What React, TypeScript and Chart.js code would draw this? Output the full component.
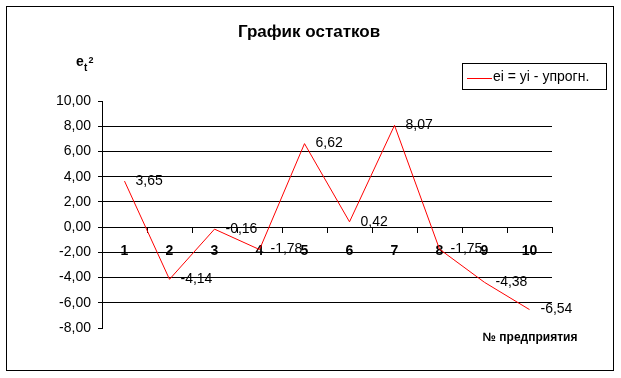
import React, { useEffect, useRef } from "react";
import { Chart, registerables } from "chart.js";

Chart.register(...registerables);

// Residuals per enterprise
const enterprises: string[] = ["1", "2", "3", "4", "5", "6", "7", "8", "9", "10"];
const residuals: number[] = [3.65, -4.14, -0.16, -1.78, 6.62, 0.42, 8.07, -1.75, -4.38, -6.54];
const seriesLabel = "ei = yi - упрогн.";
const chartTitle = "График остатков";
const xAxisTitle = "№ предприятия";

const FONT = "'Liberation Sans', Arial, sans-serif";
const fmt = (v: number) => v.toFixed(2).replace(".", ",");

// Frame, title, axis captions, legend and value labels
const decorations = {
  id: "decorations",
  afterDraw(chart: any) {
    const ctx = chart.ctx as CanvasRenderingContext2D;
    ctx.save();

    // outer frame
    ctx.strokeStyle = "#000";
    ctx.lineWidth = 1;
    ctx.strokeRect(6.5, 6.5, 607, 364);

    ctx.fillStyle = "#000";
    // title
    ctx.font = `bold 17px ${FONT}`;
    ctx.textAlign = "center";
    ctx.textBaseline = "alphabetic";
    ctx.fillText(chartTitle, 309, 37);

    // y caption e_t^2
    ctx.textAlign = "left";
    ctx.font = `bold 14px ${FONT}`;
    ctx.fillText("e", 76, 66);
    ctx.font = `bold 10px ${FONT}`;
    ctx.fillText("t", 84, 71);
    ctx.font = `bold 9px ${FONT}`;
    ctx.fillText("2", 88.5, 63);

    // x caption
    ctx.font = `bold 12px ${FONT}`;
    ctx.textAlign = "center";
    ctx.fillText(xAxisTitle, 530, 341);

    // legend
    const ds = chart.data.datasets[0];
    ctx.strokeStyle = "#000";
    ctx.lineWidth = 1;
    ctx.strokeRect(462.5, 63.5, 144, 26);
    ctx.strokeStyle = ds.borderColor;
    ctx.beginPath();
    ctx.moveTo(467, 78.5);
    ctx.lineTo(492, 78.5);
    ctx.stroke();
    ctx.font = `14px ${FONT}`;
    ctx.textAlign = "left";
    ctx.textBaseline = "middle";
    ctx.fillStyle = "#000";
    ctx.fillText(ds.label, 493, 77.5);

    // value labels next to points
    const meta = chart.getDatasetMeta(0);
    ctx.font = `14px ${FONT}`;
    meta.data.forEach((pt: any, i: number) => {
      ctx.fillText(fmt(ds.data[i]), pt.x + 11, pt.y);
    });

    ctx.restore();
  },
};

export default function App() {
  const ref = useRef<HTMLCanvasElement | null>(null);

  useEffect(() => {
    if (!ref.current) return;
    const chart = new Chart(ref.current, {
      type: "line",
      data: {
        labels: enterprises,
        datasets: [
          {
            label: seriesLabel,
            data: residuals,
            borderColor: "#ff0000",
            borderWidth: 1,
            pointRadius: 0,
            tension: 0,
            fill: false,
          },
        ],
      },
      options: {
        responsive: false,
        animation: false,
        devicePixelRatio: 1,
        layout: { padding: { left: 0, top: 101, right: 69, bottom: 50 } },
        plugins: {
          legend: { display: false },
          title: { display: false },
          tooltip: { enabled: false },
        },
        scales: {
          x: {
            type: "category",
            position: { y: 0 } as any,
            offset: true,
            afterFit(scale: any) {
              scale.height = 0;
            },
            grid: {
              offset: true,
              drawOnChartArea: false,
              drawTicks: true,
              tickLength: 5,
              tickColor: "#000",
              color: "#000",
            },
            border: { color: "#000", width: 1 },
            ticks: {
              color: "#000",
              font: { family: FONT, size: 14, weight: "bold" },
              padding: 11,
              maxRotation: 0,
              autoSkip: false,
            },
          },
          y: {
            type: "linear",
            min: -8,
            max: 10,
            afterFit(scale: any) {
              scale.width = 102;
            },
            grid: {
              color: (c: any) =>
                c.tick && (c.tick.value === 10 || c.tick.value === -8) ? "rgba(0,0,0,0)" : "#000",
              tickColor: "#000",
              tickLength: 4,
              lineWidth: 1,
            },
            border: { color: "#000", width: 1 },
            ticks: {
              stepSize: 2,
              color: "#000",
              padding: 7,
              font: { family: FONT, size: 14 },
              callback: (v: any) => fmt(Number(v)),
            },
          },
        },
      },
      plugins: [decorations],
    });
    return () => chart.destroy();
  }, []);

  return (
    <div style={{ position: "fixed", left: 0, top: 0, width: 621, height: 378, background: "#fff" }}>
      <canvas ref={ref} width={621} height={378} style={{ width: 621, height: 378, display: "block" }} />
    </div>
  );
}
